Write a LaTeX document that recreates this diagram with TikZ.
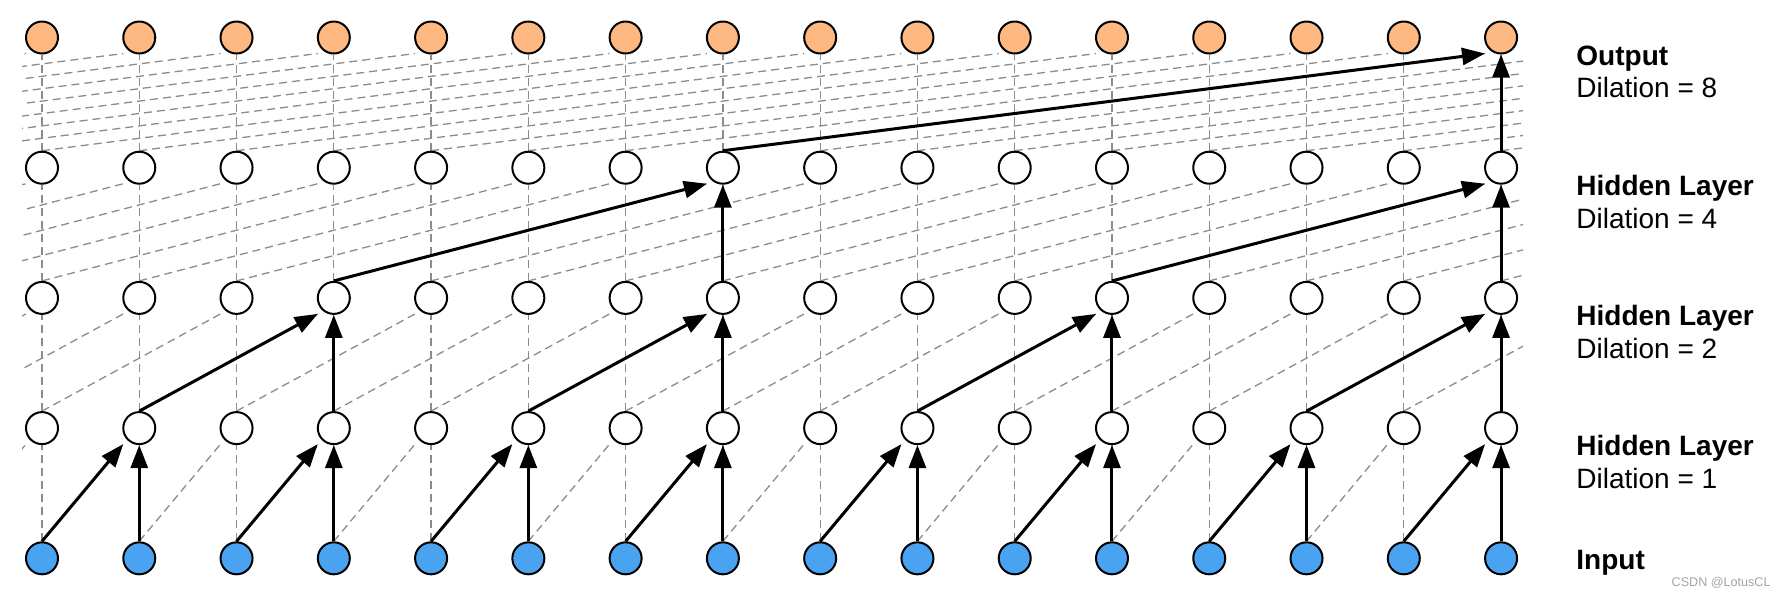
\documentclass[tikz,border=0pt]{standalone}
\usepackage{fontspec}
\setmainfont{Liberation Sans}
\usetikzlibrary{arrows.meta,backgrounds}
\definecolor{outc}{RGB}{254,184,130}
\definecolor{inc}{RGB}{74,163,240}
\definecolor{dashc}{RGB}{140,140,140}
\definecolor{wmc}{RGB}{165,165,165}
\tikzset{
  unit/.style={circle,draw=black,line width=1pt,minimum size=16pt,inner sep=0pt,fill=white},
  outunit/.style={unit,fill=outc},
  inunit/.style={unit,fill=inc},
  ghost/.style={circle,minimum size=16pt,inner sep=0pt,outer sep=0.5pt},
  link/.style={dashc,line width=0.65pt,dash pattern=on 4pt off 2.5pt},
  flow/.style={black,line width=1.5pt,-{Triangle[length=11.5pt,width=8.5pt]}},
  lbl/.style={anchor=base west,inner sep=0pt,font=\fontsize{14pt}{16pt}\selectfont},
  boldlbl/.style={lbl,font=\fontsize{14pt}{16pt}\selectfont\bfseries},
}
\begin{document}
\begin{tikzpicture}[x=0.5pt,y=-0.5pt]
\useasboundingbox (0,0) rectangle (1786,596);
% invisible helper nodes beyond both edges
\foreach \r in {0,...,4} {
  \foreach \k in {0,...,7,24,25,...,31} {
    \node[ghost] (n\r-\k) at ({42+97.27*(\k-8)},{37.5+130.2*\r}) {};
  }
}
% visible units
\foreach \k in {8,...,23} {
  \node[outunit] (n0-\k) at ({42+97.27*(\k-8)},{37.5}) {};
  \node[unit] (n1-\k) at ({42+97.27*(\k-8)},{37.5+130.2}) {};
  \node[unit] (n2-\k) at ({42+97.27*(\k-8)},{37.5+2*130.2}) {};
  \node[unit] (n3-\k) at ({42+97.27*(\k-8)},{37.5+3*130.2}) {};
  \node[inunit] (n4-\k) at ({42+97.27*(\k-8)},{37.5+4*130.2}) {};
}
\begin{pgfonlayer}{background}
  \fill[white] (0,0) rectangle (1786,596);
  \begin{scope}
    \clip (22,0) rectangle (1523,596);
    \foreach \u/\d/\jmax in {0/8/23,1/4/23,2/2/22,3/1/22} {
      \pgfmathtruncatemacro\lo{\u+1}
      \pgfmathtruncatemacro\jmin{8-\d}
      \foreach \k in {8,...,23} {
        \draw[link] (n\lo-\k.north) -- (n\u-\k.south);
      }
      \foreach \j in {\jmin,...,\jmax} {
        \pgfmathtruncatemacro\i{\j+\d}
        \draw[link] (n\lo-\j.north) -- ([shift={(-4,4)}]n\u-\i.south west);
      }
    }
  \end{scope}
  % highlighted path
  \draw[flow] (n1-15.north) -- ([shift={(-4,4)}]n0-23.south west);
  \draw[flow] (n1-23.north) -- (n0-23.south);
  \foreach \k in {15,23} {
    \pgfmathtruncatemacro\j{\k-4}
    \draw[flow] (n2-\j.north) -- ([shift={(-4,4)}]n1-\k.south west);
    \draw[flow] (n2-\k.north) -- (n1-\k.south);
  }
  \foreach \k in {11,15,19,23} {
    \pgfmathtruncatemacro\j{\k-2}
    \draw[flow] (n3-\j.north) -- ([shift={(-4,4)}]n2-\k.south west);
    \draw[flow] (n3-\k.north) -- (n2-\k.south);
  }
  \foreach \k in {9,11,...,23} {
    \pgfmathtruncatemacro\j{\k-1}
    \draw[flow] (n4-\j.north) -- ([shift={(-4,4)}]n3-\k.south west);
    \draw[flow] (n4-\k.north) -- (n3-\k.south);
  }
\end{pgfonlayer}
% labels
\node[boldlbl] (t0a) at (1576,65) {Output};
\node[lbl] (t0b) at (1576,97.8) {Dilation = 8};
\node[boldlbl] (t1a) at (1576,195.2) {Hidden Layer};
\node[lbl] (t1b) at (1576,228) {Dilation = 4};
\node[boldlbl] (t2a) at (1576,325.4) {Hidden Layer};
\node[lbl] (t2b) at (1576,358.2) {Dilation = 2};
\node[boldlbl] (t3a) at (1576,455.6) {Hidden Layer};
\node[lbl] (t3b) at (1576,488.4) {Dilation = 1};
\node[boldlbl] (t4a) at (1576,569.5) {Input};
\node[anchor=base east,inner sep=0pt,text=wmc,font=\fontsize{6.3pt}{7pt}\selectfont] (wm) at (1771,586) {CSDN @LotusCL};
\end{tikzpicture}
\end{document}
